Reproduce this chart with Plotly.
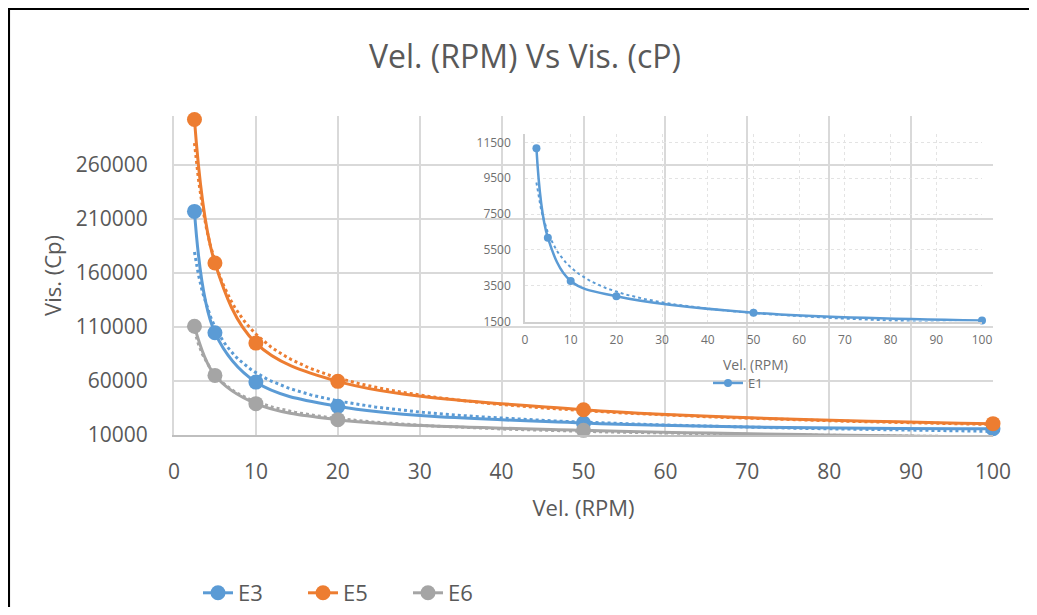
import numpy as np
import plotly.graph_objects as go

# ---------------- data ----------------
rpm = [2.5, 5, 10, 20, 50, 100]
e3 = [216800, 104600, 58900, 36500, 21000, 15800]
e5 = [301700, 169000, 95000, 59600, 33400, 20500]
e6 = [110500, 65100, 39000, 24200, 14300, 8100]
e1 = [11180, 6180, 3760, 2910, 1990, 1550]

main_yticks = [10000, 60000, 110000, 160000, 210000, 260000]
main_xticks = [0, 10, 20, 30, 40, 50, 60, 70, 80, 90, 100]
inset_yticks = [1500, 3500, 5500, 7500, 9500, 11500]
inset_xticks = [0, 10, 20, 30, 40, 50, 60, 70, 80, 90, 100]

title_text = "Vel. (RPM) Vs Vis. (cP)"
x_title = "Vel. (RPM)"
y_title = "Vis. (Cp)"

BLUE = "#5B9BD5"
ORANGE = "#ED7D31"
GRAY = "#A5A5A5"
TXT = "#595959"
GRID = "#D9D9D9"
FONT = "Open Sans"

# ---------------- layout geometry ----------------
# The page body has an 8px margin, so the figure is drawn 8px in from the
# window corner; all page positions below are converted accordingly.
OFF = 8
WIN_W, WIN_H = 1037, 615
W, H = WIN_W - 2 * OFF, WIN_H - 2 * OFF
PLOT_L, PLOT_R, PLOT_T, PLOT_B = 174, 993, 116, 435  # page pixels of plot area
L, T = PLOT_L - OFF, PLOT_T - OFF
R, B = W - (PLOT_R - OFF), H - (PLOT_B - OFF)
PW, PH = W - L - R, H - T - B


def px2x(px):
    return (px - PLOT_L) / PW


def px2y(py):
    return (PLOT_B - py) / PH


def power_fit(x, y):
    """Excel-style power trendline (least squares in log-log space)."""
    b, ln_a = np.polyfit(np.log(x), np.log(y), 1)
    xs = np.linspace(min(x), max(x), 200)
    return xs, np.exp(ln_a) * xs ** b


fig = go.Figure()

series = [("E3", e3, BLUE), ("E5", e5, ORANGE), ("E6", e6, GRAY)]
for name, vals, col in series:
    tx, ty = power_fit(rpm, vals)
    fig.add_trace(go.Scatter(
        x=tx, y=ty, mode="lines", showlegend=False, hoverinfo="skip",
        line=dict(color=col, width=3, dash="dot"),
    ))
for name, vals, col in series:
    fig.add_trace(go.Scatter(
        x=rpm, y=vals, name=name, mode="lines+markers",
        line=dict(color=col, width=3, shape="spline", smoothing=1),
        marker=dict(color=col, size=15),
        cliponaxis=False, legend="legend",
    ))

# inset (E1)
tx, ty = power_fit(rpm, e1)
fig.add_trace(go.Scatter(
    x=tx, y=ty, mode="lines", showlegend=False, hoverinfo="skip",
    line=dict(color=BLUE, width=2, dash="dot"), xaxis="x2", yaxis="y2",
))
fig.add_trace(go.Scatter(
    x=rpm, y=e1, name="E1", mode="lines+markers",
    line=dict(color=BLUE, width=2.5, shape="spline", smoothing=1),
    marker=dict(color=BLUE, size=8), cliponaxis=False,
    xaxis="x2", yaxis="y2", legend="legend2",
))

fig.update_layout(
    width=W, height=H,
    margin=dict(l=L, r=R, t=T, b=B, pad=0, autoexpand=False),
    paper_bgcolor="white", plot_bgcolor="rgba(0,0,0,0)",
    font=dict(family=FONT, color=TXT),
    title=dict(text=title_text, x=(525 - OFF) / W, xref="container", xanchor="center",
               y=1 - (57 - OFF) / H, yref="container", yanchor="middle",
               font=dict(size=32, color=TXT, family=FONT)),
    xaxis=dict(
        range=[0, 100], tickvals=main_xticks, showgrid=True, gridcolor=GRID, gridwidth=2,
        showline=True, linecolor="#BFBFBF", linewidth=2, zeroline=False,
        ticks="", ticklabelstandoff=17, tickfont=dict(size=21, color=TXT),
        title=dict(text=x_title, font=dict(size=22, color=TXT), standoff=16),
        automargin=False, domain=[0, 1],
    ),
    yaxis=dict(
        range=[10000, 305000], tickvals=main_yticks, tickformat="d",
        showgrid=True, gridcolor=GRID, gridwidth=2, zeroline=False,
        showline=True, linecolor=GRID, linewidth=2,
        ticks="", ticklabelstandoff=20, tickfont=dict(size=21, color=TXT),
        title=dict(text=y_title, font=dict(size=22, color=TXT), standoff=8),
        automargin=False, domain=[0, 1],
    ),
    xaxis2=dict(
        domain=[px2x(525), px2x(982)], anchor="y2", range=[0, 100], tickvals=inset_xticks,
        showgrid=True, gridcolor="#E3E3E3", gridwidth=1, griddash="dot",
        showline=True, linecolor="#D0D0D0", linewidth=1.5, zeroline=False,
        ticks="", ticklabelstandoff=6, tickfont=dict(size=12, color="#6f6f6f"),
        automargin=False,
    ),
    yaxis2=dict(
        domain=[px2y(321.5), px2y(133.5)], anchor="x2", range=[1500, 12000],
        tickvals=inset_yticks, tickformat="d",
        showgrid=True, gridcolor="#E3E3E3", gridwidth=1, griddash="dot",
        showline=True, linecolor="#D0D0D0", linewidth=1.5, zeroline=False,
        ticks="", ticklabelstandoff=10, tickfont=dict(size=12, color="#6f6f6f"),
        automargin=False,
    ),
    legend=dict(
        orientation="h", x=px2x(198), y=px2y(593), xanchor="left", yanchor="middle",
        font=dict(size=22, color=TXT, family=FONT), bgcolor="rgba(0,0,0,0)",
        entrywidth=60, entrywidthmode="pixels", itemclick=False,
    ),
    legend2=dict(
        orientation="h", x=px2x(708), y=px2y(383), xanchor="left", yanchor="middle",
        font=dict(size=13, color="#6f6f6f", family=FONT), bgcolor="rgba(0,0,0,0)",
    ),
    annotations=[dict(
        text=x_title, x=px2x(755), y=px2y(364), xref="paper", yref="paper",
        showarrow=False, font=dict(size=14, color="#6f6f6f", family=FONT),
        xanchor="center", yanchor="middle",
    )],
    shapes=[
        dict(type="line", xref="paper", yref="paper", x0=px2x(OFF + 0.8), x1=px2x(OFF + 0.8),
             y0=px2y(OFF + 0.2), y1=px2y(WIN_H - OFF), line=dict(color="black", width=2.5)),
        dict(type="line", xref="paper", yref="paper", x0=px2x(OFF), x1=px2x(WIN_W - OFF),
             y0=px2y(OFF + 0.8), y1=px2y(OFF + 0.8), line=dict(color="black", width=2.5)),
    ],
)

fig.write_html("out.html")
